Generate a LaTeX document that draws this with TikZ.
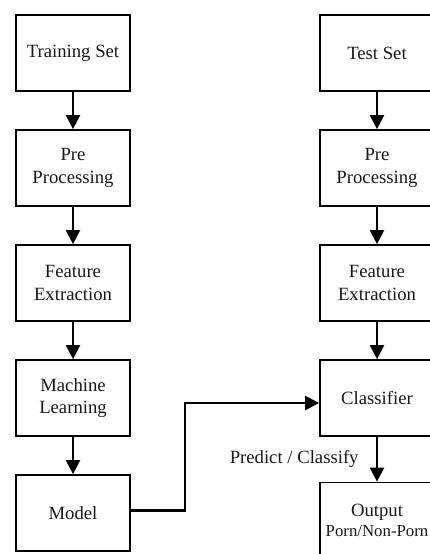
\documentclass[tikz,border=0pt]{standalone}
\usepackage{fontspec}
\setmainfont{Liberation Serif}
\usetikzlibrary{arrows.meta,positioning}

\begin{document}
\begin{tikzpicture}[x=1pt,y=1pt,node distance=115pt,
  box/.style={draw,line width=1.7pt,minimum width=114pt,minimum height=76pt,
    align=center,inner sep=2pt,text=black!90,font=\fontsize{18.7}{22.4}\selectfont},
  flow/.style={-{Triangle[width=14pt,length=14pt]},line width=2.2pt}]
 \clip (0,0) rectangle (430,-554);

 % training side
 \node[box] (train)              at (73,-53) {Training Set};
 \node[box] (pretr)  [below of=train]  {Pre\\Processing};
 \node[box] (feattr) [below of=pretr]  {Feature\\Extraction};
 \node[box] (ml)     [below of=feattr] {Machine\\Learning};
 \node[box] (model)  [below of=ml]     {Model};

 % test side
 \node[box] (test)               at (377,-53) {Test Set};
 \node[box] (prets)  [below of=test]   {Pre\\Processing};
 \node[box] (featts) [below of=prets]  {Feature\\Extraction};
 \node[box] (cls)    [below of=featts] {Classifier};
 \node[box,node distance=122.5pt] (out) [below of=cls]
   {Output\\[-3pt]{\fontsize{16.8}{18}\selectfont Porn/Non-Porn}};

 \draw[flow] (train) -- (pretr);
 \draw[flow] (pretr) -- (feattr);
 \draw[flow] (feattr) -- (ml);
 \draw[flow] (ml) -- (model);

 \draw[flow] (test) -- (prets);
 \draw[flow] (prets) -- (featts);
 \draw[flow] (featts) -- (cls);
 \draw[flow] (cls) -- node[left=14pt,text=black!90,font=\fontsize{18.7}{22.4}\selectfont] (pred) {Predict / Classify} (out);

 \draw[flow] ([yshift=2.5pt]model.east) -- ++(54,0) |- ([yshift=-5pt]cls.west);
\end{tikzpicture}
\end{document}
